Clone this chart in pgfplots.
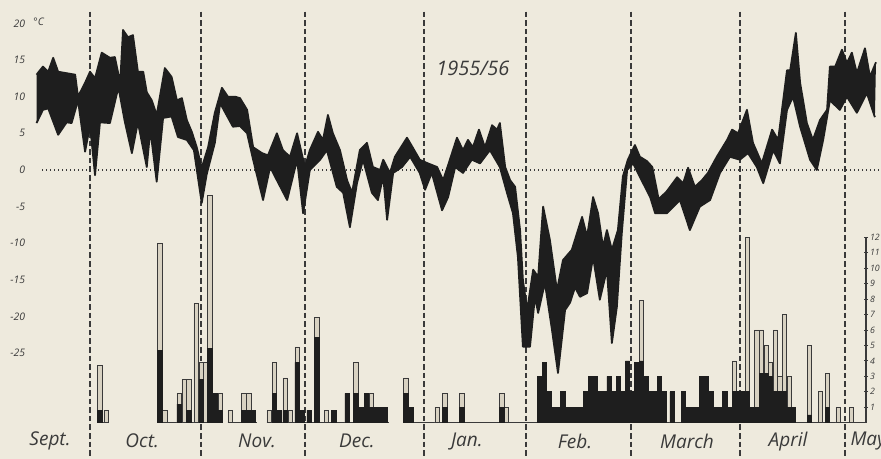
\documentclass[border=0pt]{standalone}
\usepackage{pgfplots}
\pgfplotsset{compat=1.18}
\usepgfplotslibrary{fillbetween}
\usepackage{fontspec}
\setmainfont{Open Sans}
\definecolor{paper}{HTML}{EEEADD}
\definecolor{ink}{HTML}{1E1E1E}
\definecolor{inkl}{HTML}{3A3A3A}
\definecolor{stip}{HTML}{D8D2C2}
\newcommand\lab{\fontsize{9.5}{10}\selectfont\itshape}
\newcommand\tk{\fontsize{5.2}{6}\selectfont\itshape}
\newcommand\tkr{\fontsize{4.4}{5}\selectfont\itshape}
\begin{document}
\begin{tikzpicture}
\fill[paper] (-15pt,0pt) rectangle (425.5pt,229.5pt);
\begin{axis}[name=T, at={(0pt,0pt)}, anchor=south west,
  scale only axis, width=425.5pt, height=229.5pt,
  xmin=13.06, xmax=253.12, ymin=-39.43, ymax=23.19,
  axis x line=none, axis y line=left,
  y axis line style={-, draw=inkl, line width=0.6pt, shorten <=30.9pt, shorten >=9.9pt},
  ytick={-25,-20,...,20}, yticklabels={-25,-20,-15,-10,-5,0,5,10,15,20},
  minor ytick={-31,-30,...,20},
  tick align=center, major tick length=3pt, minor tick length=1.4pt,
  tick style={draw=inkl, line width=0.4pt},
  yticklabel style={font=\tk, text=inkl, inner sep=0.8pt},
  clip=false, unbounded coords=jump]
% month boundaries
\addplot[inkl, line width=0.7pt, dash pattern=on 2.8pt off 1.5pt] coordinates {
 (30.0,21.6) (30.0,-39.4) (30.0,nan)
 (61.3,21.6) (61.3,-39.4) (61.3,nan)
 (90.6,21.6) (90.6,-39.4) (90.6,nan)
 (124.2,21.6) (124.2,-39.4) (124.2,nan)
 (153.0,21.6) (153.0,-39.4) (153.0,nan)
 (182.6,21.6) (182.6,-39.4) (182.6,nan)
 (213.3,21.6) (213.3,-39.4) (213.3,nan)
 (243.0,21.6) (243.0,-39.4)};
% zero line
\addplot[inkl, line width=0.6pt, dash pattern=on 0.6pt off 1.4pt] coordinates {(16.5,0) (252.5,0)};
% upper edge of the band
\addplot[name path=U, draw=ink, line width=0.9pt, line join=round] table {
d T
14.9 13.0
16.7 14.1
18.2 13.4
19.6 15.3
21.0 13.4
23.4 13.2
25.8 13.0
26.6 10.0
28.6 11.9
30.0 13.4
31.4 12.5
33.3 16.0
35.6 15.3
37.0 15.4
38.5 11.9
39.3 19.1
40.7 18.1
42.1 18.4
43.5 13.4
45.0 13.4
46.0 10.6
47.4 9.5
48.8 7.5
51.1 13.9
53.0 12.7
54.5 9.5
55.9 9.8
57.3 6.8
58.7 5.2
60.1 3.1
61.5 0.3
63.3 3.1
65.2 7.8
67.2 11.2
68.9 10.0
70.9 10.0
72.3 9.8
74.3 8.2
76.0 3.1
78.5 2.3
80.2 2.0
82.7 5.0
84.4 2.7
86.4 1.8
88.4 5.0
90.6 0.4
92.0 2.7
94.3 5.2
95.7 4.1
97.1 7.5
98.5 5.0
100.5 2.7
102.5 -1.4
103.9 -3.1
106.1 2.7
108.1 3.7
109.8 0.4
111.8 0.0
112.7 1.4
114.6 -0.4
116.0 1.8
119.4 4.4
121.1 3.0
123.0 1.4
125.3 0.9
127.9 0.4
129.6 -1.4
131.5 1.4
133.5 4.4
135.2 2.7
136.6 4.1
138.0 3.1
139.7 5.5
141.4 3.1
143.4 6.1
144.8 5.5
145.6 6.4
147.1 0.4
148.5 -1.4
149.9 -2.3
151.3 -8.2
152.1 -15.0
153.3 -19.1
155.0 -13.6
156.4 -14.6
157.8 -5.0
159.7 -9.5
161.7 -16.4
163.4 -12.3
165.9 -10.9
168.8 -6.4
170.2 -9.1
171.9 -3.7
173.3 -5.9
174.7 -10.5
175.8 -8.2
177.2 -10.9
178.9 -8.2
180.3 -0.9
181.7 1.4
183.7 3.4
185.1 1.8
187.1 1.2
188.6 0.4
190.4 -4.0
192.7 -2.9
195.6 -1.0
197.3 -1.8
198.7 0.3
200.6 -2.3
202.6 -1.4
204.3 -0.4
206.8 1.8
209.7 4.1
211.1 5.5
212.8 5.0
215.3 8.2
217.0 3.7
219.5 0.9
222.4 5.5
224.1 4.1
226.6 13.6
227.5 13.6
229.1 18.7
230.3 11.9
232.2 6.4
233.9 4.1
235.9 6.8
237.9 8.2
238.7 14.1
240.2 14.1
242.1 16.4
243.5 14.6
244.9 16.0
246.3 13.2
248.6 16.6
250.0 12.7
251.7 14.7
};
% lower edge of the band
\addplot[name path=L, draw=ink, line width=0.9pt, line join=round] table {
d T
14.9 6.4
16.7 8.2
18.2 8.4
21.0 4.8
23.4 6.5
24.8 6.4
26.6 9.5
28.6 2.5
30.0 6.1
31.4 -0.7
32.8 6.5
35.6 6.4
38.0 11.3
39.8 6.6
41.8 2.3
43.5 6.5
46.0 0.4
47.0 5.5
48.8 -1.6
50.6 7.1
53.0 7.3
54.8 4.5
57.3 4.1
59.3 2.7
61.5 -4.5
62.9 -0.6
65.2 3.7
66.7 9.1
70.3 5.9
72.3 6.0
74.3 5.0
76.0 1.4
78.8 -4.1
80.8 0.4
82.7 -1.4
85.6 -4.1
88.4 1.4
90.1 -5.9
92.0 0.0
94.9 1.4
96.8 2.7
99.6 -2.3
101.4 -3.1
103.3 -7.8
105.3 -1.8
107.0 1.4
109.5 -3.1
111.2 -4.1
112.7 -0.9
113.8 -6.8
115.5 -0.4
118.0 0.4
120.3 1.8
123.0 -0.4
124.5 -2.7
126.4 -0.4
129.3 -5.5
131.0 -3.7
133.0 0.4
135.2 -0.4
137.7 1.4
140.0 0.9
142.8 2.7
145.6 0.4
147.6 -3.1
149.3 -5.9
150.7 -11.9
152.1 -24.1
154.1 -24.1
155.5 -17.3
156.4 -19.5
158.3 -15.4
160.3 -21.8
162.0 -27.7
164.0 -19.1
165.4 -18.1
166.8 -16.0
168.2 -17.3
170.2 -16.8
171.9 -11.9
173.8 -17.7
175.8 -13.6
177.2 -23.6
178.6 -18.7
180.0 -8.6
181.5 0.0
183.2 0.9
186.0 -1.8
188.0 -3.7
189.4 -5.9
192.7 -5.9
196.4 -4.1
199.2 -8.2
202.0 -5.0
204.9 -4.1
207.7 -0.4
210.5 1.8
213.3 1.4
215.6 2.3
218.1 0.4
219.9 -1.8
222.7 2.7
224.6 0.9
226.6 8.2
228.3 10.0
230.3 5.9
233.1 1.4
235.0 0.0
236.8 4.1
238.7 9.5
241.5 8.2
243.5 10.0
246.3 7.8
249.1 10.5
251.4 7.2
};
\addplot[fill=ink, draw=none] fill between[of=U and L, on layer=main];
\node[font=\tk, text=inkl, anchor=west, inner sep=0pt] at (axis cs:13.9,20.2) {°C};
\node[font=\lab\fontsize{10}{11}\selectfont, text=inkl] at (axis cs:138,13.9) {1955/56};
\node[font=\lab, text=inkl] at (axis cs:18.7,-37.0) {Sept.};
\node[font=\lab, text=inkl] at (axis cs:44.7,-37.0) {Oct.};
\node[font=\lab, text=inkl] at (axis cs:77.1,-37.0) {Nov.};
\node[font=\lab, text=inkl] at (axis cs:105.3,-37.0) {Dec.};
\node[font=\lab, text=inkl] at (axis cs:136.3,-37.0) {Jan.};
\node[font=\lab, text=inkl] at (axis cs:166.8,-37.0) {Feb.};
\node[font=\lab, text=inkl] at (axis cs:198.4,-37.0) {March};
\node[font=\lab, text=inkl] at (axis cs:226.9,-37.0) {April};
\node[font=\lab, text=inkl, anchor=west, inner sep=0pt] at (axis cs:244.4,-37.0) {May};
\end{axis}
\begin{axis}[at={(0pt,0pt)}, anchor=south west,
  scale only axis, width=418.0pt, height=229.5pt,
  xmin=13.06, xmax=248.9, ymin=-2.35, ymax=27.36,
  axis x line=none, axis y line=right,
  y axis line style={-, draw=inkl, line width=0.6pt, shorten <=18.15pt, shorten >=118.65pt},
  ytick={1,2,...,12}, yticklabels={1,2,3,4,5,6,7,8,9,10,11,12},
  tick align=center, major tick length=2pt,
  tick style={draw=inkl, line width=0.4pt},
  yticklabel style={font=\tkr, text=inkl, inner sep=0.8pt},
  unbounded coords=jump]
\addplot[inkl, line width=0.5pt] coordinates {
 (32.1,0) (35.3,0) (35.3,nan)
 (48.9,0) (67.6,0) (67.6,nan)
 (68.8,0) (77.0,0) (77.0,nan)
 (79.8,0) (114.3,0) (114.3,nan)
 (118.3,0) (248.9,0)};
\addplot[ybar, bar width=1.2, bar shift=0pt, fill=stip, draw=inkl, line width=0.35pt]
  table[x=d, y=t] {
d t b
32.8 3.7 0.8
34.5 0.8 0
49.7 11.6 4.7
51.1 0.8 0
55.1 1.9 1.2
56.5 2.8 0
57.9 2.8 0.8
59.9 7.7 0
61.3 3.9 2.8
62.5 3.9 0
63.8 14.7 4.8
65.3 1.9 1.9
66.7 1.9 0.8
69.5 0.8 0
73.4 1.9 0.8
74.8 1.9 0.8
76.0 0.8 0.8
80.5 0.8 0
82.0 3.9 1.9
83.3 0.8 0.8
85.0 2.9 0.8
86.4 0.8 0
88.4 4.9 3.9
89.8 0.8 0.8
91.8 0.8 0.8
94.0 6.8 5.5
96.6 0.8 0
98.8 0.8 0.8
102.5 1.9 1.9
105.0 3.9 1.9
106.4 1.0 1.0
107.9 1.9 1.9
109.4 1.9 1.0
110.8 1.0 1.0
112.2 1.0 1.0
113.4 1.0 1.0
119.1 2.9 1.9
120.5 1.0 1.0
127.9 1.0 0
130.1 1.9 1.0
134.9 1.9 1.0
146.2 1.9 1.0
147.5 1.0 0
156.9 3.0 3.0
158.2 3.9 3.9
159.5 2.0 2.0
160.8 1.0 1.0
162.1 1.0 1.0
163.4 2.0 2.0
164.7 1.0 1.0
166.0 1.0 1.0
167.3 1.0 1.0
168.6 1.0 1.0
169.9 2.0 2.0
171.2 3.0 3.0
172.5 3.0 3.0
173.8 2.0 2.0
175.1 2.0 2.0
176.4 3.0 3.0
177.7 2.0 2.0
179.0 3.0 3.0
180.3 2.0 2.0
181.6 4.0 4.0
182.9 2.0 2.0
184.2 3.9 3.9
185.5 7.9 4.0
186.8 3.0 3.0
188.1 2.0 2.0
189.4 2.0 2.0
190.7 3.0 3.0
192.0 2.0 2.0
194.2 2.0 2.0
197.4 2.0 2.0
198.7 1.0 1.0
200.0 1.0 1.0
201.3 1.0 1.0
202.6 3.0 3.0
203.9 3.0 3.0
205.2 2.0 2.0
206.5 1.0 1.0
207.8 1.0 1.0
209.1 2.0 2.0
210.4 1.0 1.0
211.7 4.0 2.0
213.0 2.0 2.0
214.3 2.0 2.0
215.5 12.0 2.0
216.8 1.0 1.0
218.1 6.0 1.0
219.4 6.0 3.2
220.7 5.0 3.2
222.0 3.9 3.0
223.3 6.0 2.0
224.6 3.0 2.0
225.9 7.0 2.0
227.2 3.0 1.0
228.5 1.0 1.0
232.9 5.0 0.5
236.1 2.0 0
238.0 3.2 1.0
241.0 1.0 0
244.8 1.0 0
};
\addplot[ybar, bar width=1.2, bar shift=0pt, fill=ink, draw=ink, line width=0.35pt]
  table[x=d, y=b] {
d b
32.8 0.8
49.7 4.7
55.1 1.2
57.9 0.8
61.3 2.8
63.8 4.8
65.3 1.9
66.7 0.8
73.4 0.8
74.8 0.8
76.0 0.8
82.0 1.9
83.3 0.8
85.0 0.8
88.4 3.9
89.8 0.8
91.8 0.8
94.0 5.5
98.8 0.8
102.5 1.9
105.0 1.9
106.4 1.0
107.9 1.9
109.4 1.0
110.8 1.0
112.2 1.0
113.4 1.0
119.1 1.9
120.5 1.0
130.1 1.0
134.9 1.0
146.2 1.0
156.9 3.0
158.2 3.9
159.5 2.0
160.8 1.0
162.1 1.0
163.4 2.0
164.7 1.0
166.0 1.0
167.3 1.0
168.6 1.0
169.9 2.0
171.2 3.0
172.5 3.0
173.8 2.0
175.1 2.0
176.4 3.0
177.7 2.0
179.0 3.0
180.3 2.0
181.6 4.0
182.9 2.0
184.2 3.9
185.5 4.0
186.8 3.0
188.1 2.0
189.4 2.0
190.7 3.0
192.0 2.0
194.2 2.0
197.4 2.0
198.7 1.0
200.0 1.0
201.3 1.0
202.6 3.0
203.9 3.0
205.2 2.0
206.5 1.0
207.8 1.0
209.1 2.0
210.4 1.0
211.7 2.0
213.0 2.0
214.3 2.0
215.5 2.0
216.8 1.0
218.1 1.0
219.4 3.2
220.7 3.2
222.0 3.0
223.3 2.0
224.6 2.0
225.9 2.0
227.2 1.0
228.5 1.0
232.9 0.5
238.0 1.0
};
\end{axis}
\pgfresetboundingbox
\path (-15pt,0pt) rectangle (425.5pt,229.5pt);
\end{tikzpicture}
\end{document}
